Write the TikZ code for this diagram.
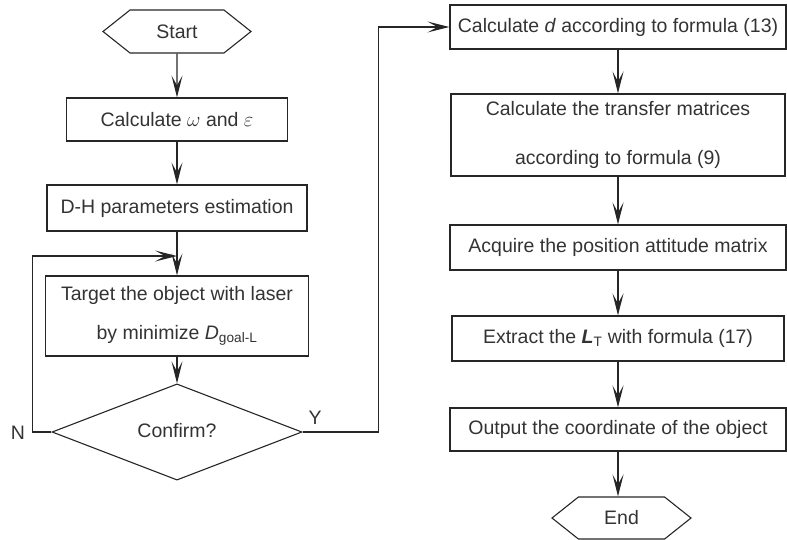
\documentclass[tikz,border=0pt]{standalone}
\usepackage{fontspec}
\setmainfont{Liberation Sans}
\usetikzlibrary{arrows.meta,shapes.geometric,shapes.symbols}

\tikzset{
    box/.style={draw=black!85,line width=1.1pt,text=black!80,align=center,inner sep=2pt},
    hexa/.style={draw=black!85,line width=1.1pt,text=black!80,signal,signal to=west and east,
        signal pointer angle=77,minimum width=148pt,minimum height=43pt,inner sep=0pt},
    decision/.style={draw=black!85,line width=1.1pt,text=black!80,diamond,inner sep=0pt,
        minimum width=250pt,minimum height=66pt},
    flow/.style={draw=black!85,line width=1.1pt,-{Stealth[length=22pt,width=11pt,inset=10pt]}},
}

\begin{document}
\begin{tikzpicture}[x=1pt,y=-1pt,font=\fontsize{19.5}{24}\selectfont]
    \clip (0,0) rectangle (787,539);
    % Left column
    \node[hexa] (start) at (177,31.5) {Start};
    \node[box,minimum width=221pt,minimum height=43pt] (omega) at (177,119.5) {Calculate $\omega$ and $\varepsilon$};
    \node[box,minimum width=260pt,minimum height=46pt] (dh) at (177,208) {D-H parameters estimation};
    \node[box,minimum width=263pt,minimum height=80pt] (target) at (177,316) {Target the object with laser\\[15pt] by minimize \textit{D}\textsubscript{goal-L}};
    \node[decision] (confirm) at (177,432) {\raisebox{3pt}{Confirm?}};
    \node[text=black!80] (no) at (18,433) {N};
    \node[text=black!80] (yes) at (315,418) {Y};
    \coordinate (join) at (177,256); % Loop entry
    % Right column
    \node[box,minimum width=336pt,minimum height=44pt] (calcd) at (618,27) {Calculate \textit{d} according to formula (13)};
    \node[box,minimum width=334pt,minimum height=82pt] (transfer) at (618,135) {Calculate the transfer matrices\\[25pt] according to formula (9)};
    \node[box,minimum width=336pt,minimum height=45pt] (acquire) at (618,247.5) {Acquire the position attitude matrix};
    \node[box,minimum width=332pt,minimum height=45pt] (extract) at (618,338.5) {Extract the \textbf{\textit{L}}\textsubscript{T} with formula (17)};
    \node[box,minimum width=336pt,minimum height=43pt] (output) at (618,429.5) {Output the coordinate of the object};
    \node[hexa,minimum width=139pt,minimum height=42pt] (end) at (621.5,518) {End};
    % Connectors
    \draw[flow] (start) -- (omega);
    \draw[flow] (omega) -- (dh);
    \draw[flow] (dh) -- (target);
    \draw[flow] (target) -- (confirm);
    \draw[flow] (confirm.west) -- ++(-19,0) |- (join); % No: back to targeting
    \draw[flow] (confirm.east) -- ++(76,0) |- (calcd.west); % Yes
    \draw[flow] (calcd) -- (transfer);
    \draw[flow] (transfer) -- (acquire);
    \draw[flow] (acquire) -- (extract);
    \draw[flow] (extract) -- (output);
    \draw[flow] (output.south) -- (output.south |- end.north);
\end{tikzpicture}
\end{document}
